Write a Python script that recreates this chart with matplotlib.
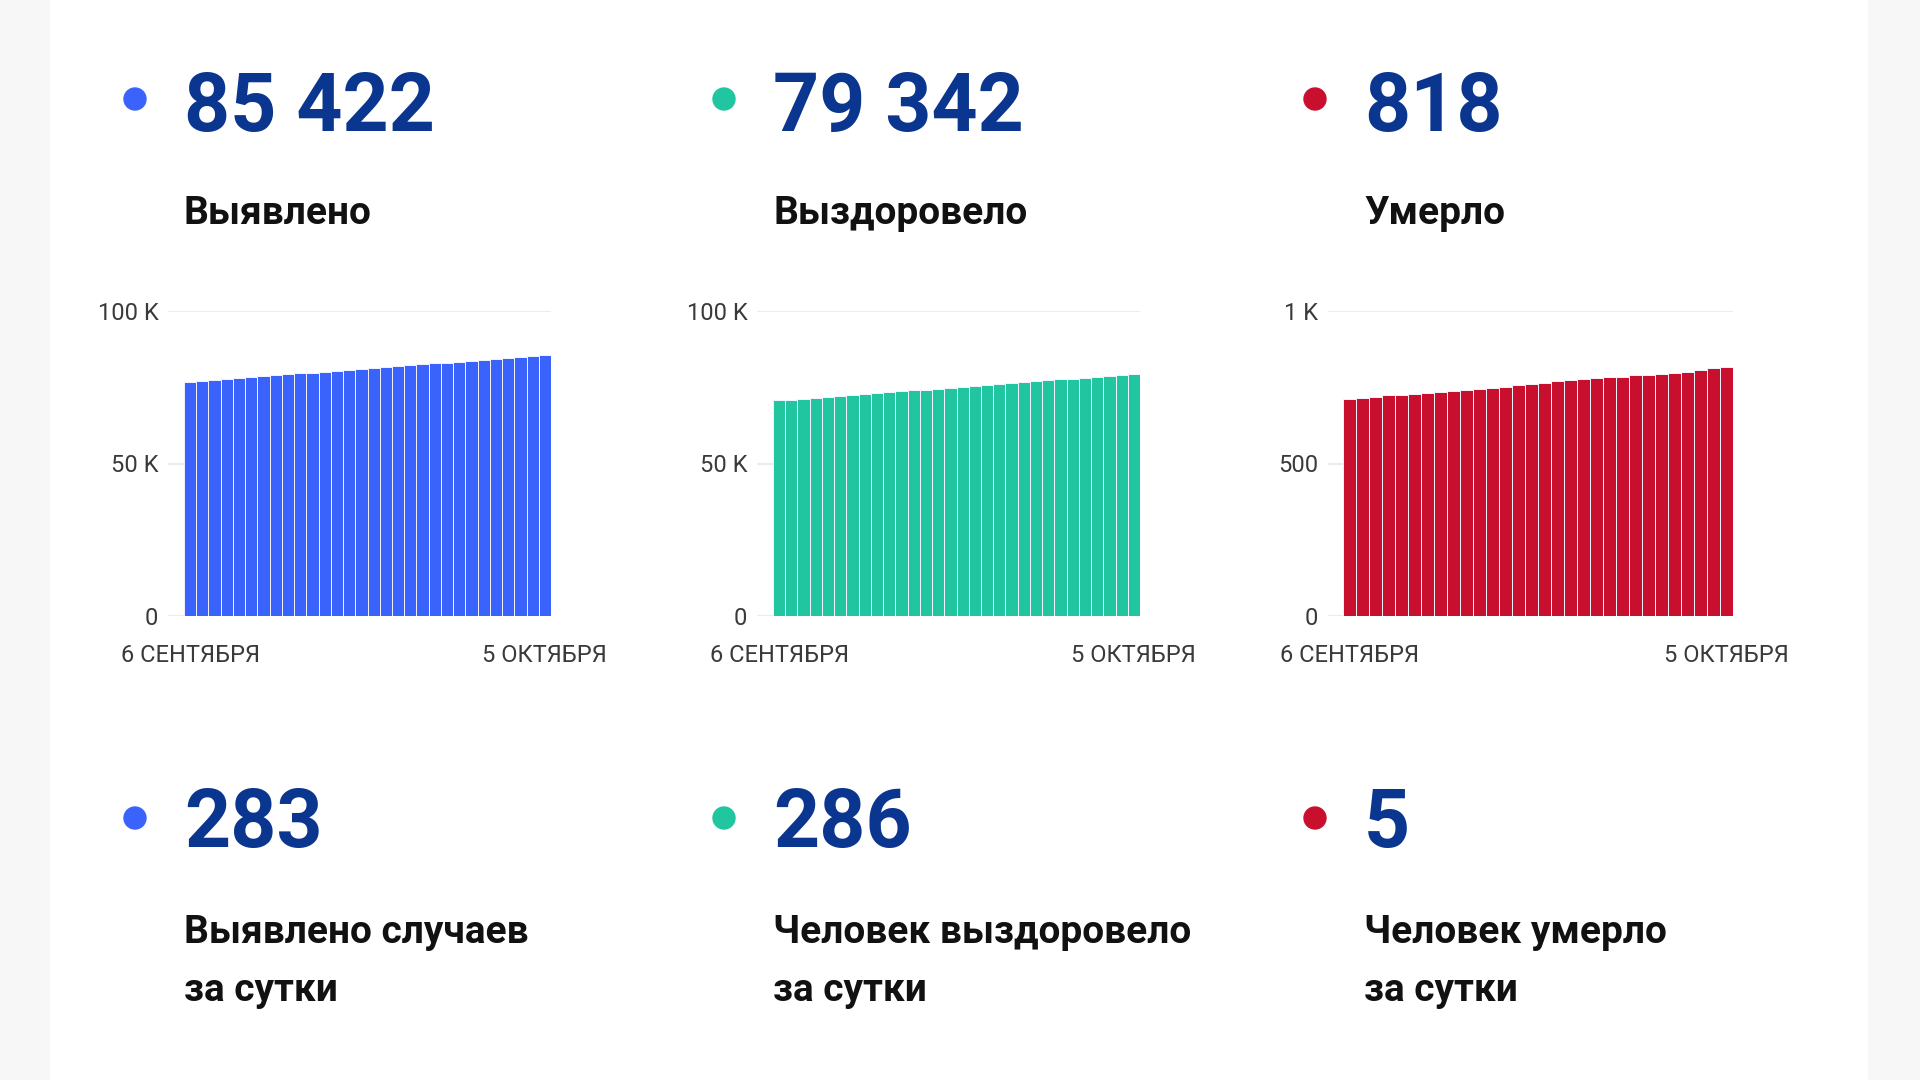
import matplotlib
matplotlib.use("Agg")
import matplotlib.pyplot as plt
from matplotlib.patches import Rectangle, Circle

plt.rcParams["font.family"] = ["Roboto", "DejaVu Sans"]

NAVY = "#0b3690"
BLUE = "#3a63fb"
GREEN = "#21c6a0"
RED = "#c8102e"
GRID = "#ececec"
TICK = "#3a3a3a"

# cumulative totals, 6 September .. 5 October
cases = [76820, 77120, 77420, 77720, 78020, 78320, 78620, 78920, 79220, 79520,
         79820, 80120, 80420, 80720, 81020, 81320, 81620, 81920, 82220, 82520,
         82820, 83110, 83400, 83690, 83980, 84270, 84560, 84850, 85139, 85422]
recovered = [70660, 70960, 71260, 71560, 71860, 72160, 72460, 72760, 73060, 73360,
             73660, 73960, 74260, 74560, 74860, 75160, 75460, 75760, 76060, 76360,
             76660, 76960, 77260, 77560, 77860, 78160, 78460, 78760, 79056, 79342]
deaths = [712, 715, 719, 723, 725, 728, 730, 734, 737, 740,
          743, 748, 752, 756, 761, 765, 770, 773, 776, 780,
          782, 785, 789, 791, 794, 798, 801, 805, 813, 818]

x_labels = ["6 СЕНТЯБРЯ", "5 ОКТЯБРЯ"]
totals = ["85 422", "79 342", "818"]
total_titles = ["Выявлено", "Выздоровело", "Умерло"]
daily = ["283", "286", "5"]
daily_titles = [["Выявлено случаев", "за сутки"],
                ["Человек выздоровело", "за сутки"],
                ["Человек умерло", "за сутки"]]
y_ticks = [[0, 50000, 100000], [0, 50000, 100000], [0, 500, 1000]]
y_tick_labels = [["0", "50 K", "100 K"], ["0", "50 K", "100 K"], ["0", "500", "1 K"]]

W, H = 1920, 1080
fig = plt.figure(figsize=(19.2, 10.8), dpi=100)
fig.patch.set_facecolor("#f7f7f8")

# overlay axes in pixel coordinates for the card, dots and big numbers
lay = fig.add_axes([0, 0, 1, 1])
lay.set_xlim(0, W)
lay.set_ylim(H, 0)
lay.axis("off")
lay.add_patch(Rectangle((50, -5), 1818, H + 10, facecolor="white", edgecolor="none"))

col_x = [184, 773, 1364]
dot_x = [135, 724, 1315]
colors = [BLUE, GREEN, RED]

for i in range(3):
    # top row
    lay.add_patch(Circle((dot_x[i], 99), 11, color=colors[i], zorder=3))
    lay.text(col_x[i], 131, totals[i], fontsize=58, fontweight="bold", color=NAVY,
             va="baseline", ha="left")
    lay.text(col_x[i], 224, total_titles[i], fontsize=28, fontweight="bold",
             color="#111111", va="baseline", ha="left")
    # bottom row
    lay.add_patch(Circle((dot_x[i], 818), 11, color=colors[i], zorder=3))
    lay.text(col_x[i], 847, daily[i], fontsize=58, fontweight="bold", color=NAVY,
             va="baseline", ha="left")
    lay.text(col_x[i], 943, daily_titles[i][0], fontsize=28, fontweight="bold",
             color="#111111", va="baseline", ha="left")
    lay.text(col_x[i], 1001, daily_titles[i][1], fontsize=28, fontweight="bold",
             color="#111111", va="baseline", ha="left")

# bar charts: (grid left, bar left, right) in pixels
chart_px = [(168, 184, 551), (757, 773, 1140), (1328, 1343, 1733)]
series = [cases, recovered, deaths]
y_top, y_bot = 311, 616

for i, (gl, bl, br) in enumerate(chart_px):
    ax = fig.add_axes([gl / W, (H - y_bot) / H, (br - gl) / W, (y_bot - y_top) / H])
    n = len(series[i])
    bw = (br - bl) / n
    extra = (bl - gl) / bw
    ax.bar(range(n), series[i], width=1.0, color=colors[i], edgecolor="#f2f4ff",
           linewidth=0.7, zorder=2)
    ax.set_xlim(-0.5 - extra, n - 0.5)
    ax.set_ylim(0, y_ticks[i][-1])
    ax.set_yticks(y_ticks[i])
    ax.set_yticklabels(y_tick_labels[i])
    ax.set_xticks([0, n - 1])
    ax.set_xticklabels(x_labels)
    ax.grid(axis="y", color=GRID, linewidth=1.5, zorder=0)
    ax.set_axisbelow(True)
    for s in ax.spines.values():
        s.set_visible(False)
    ax.tick_params(axis="y", length=0, pad=7, labelsize=17, labelcolor=TICK)
    ax.tick_params(axis="x", length=0, pad=20, labelsize=17, labelcolor=TICK)
    ax.set_facecolor("none")

fig.savefig("out.png", dpi=100, facecolor=fig.get_facecolor())
